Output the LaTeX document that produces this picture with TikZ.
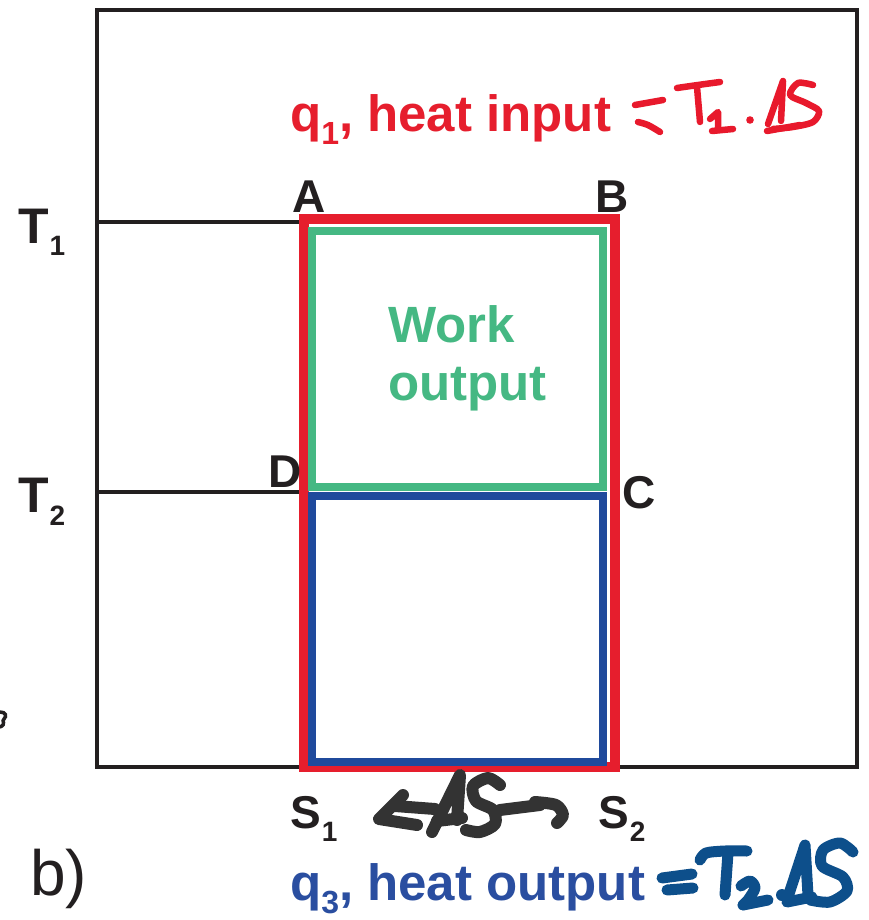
\documentclass[tikz,border=0pt]{standalone}
\usepackage{fontspec}
\setmainfont{Liberation Sans}
\definecolor{ink}{HTML}{231F20}
\definecolor{qred}{HTML}{E61E2D}
\definecolor{wgreen}{HTML}{45B883}
\definecolor{qblue}{HTML}{1F4A9C}
\definecolor{tblue}{HTML}{2A4EA0}
\definecolor{hred}{HTML}{E8192C}
\definecolor{hblue}{HTML}{0D4F8B}
\definecolor{hgray}{HTML}{333333}
\begin{document}
\begin{tikzpicture}[x=1pt,y=-1pt,
  lbl/.style={font=\fontsize{46}{50}\selectfont\bfseries, text=ink, inner sep=0pt, anchor=base west},
  big/.style={font=\fontsize{51}{58}\selectfont\bfseries, inner sep=0pt, anchor=base west},
  hand/.style={line cap=round, line join=round}]
\useasboundingbox (0,0) rectangle (869,920);
\fill[white] (0,0) rectangle (869,920);

% frame and level lines
\draw[ink, line width=4.5] (97,10) rectangle (857,767);
\coordinate (t1a) at (97,222); \coordinate (t1b) at (304,222);
\coordinate (t2a) at (97,492); \coordinate (t2b) at (304,492);
\draw[ink, line width=4] (t1a) -- (t1b);
\draw[ink, line width=4] (t2a) -- (t2b);

% rectangles
\draw[qred, line width=10] (304,219) rectangle (615,767);
\draw[wgreen, line width=8] (312,231) rectangle (603,487);
\draw[qblue, line width=8] (312,496) rectangle (603,762);

% labels
\node[lbl, font=\fontsize{50}{54}\selectfont\bfseries] (T1) at (18,243) {T\kern1pt\raisebox{-12pt}{\fontsize{28}{28}\selectfont 1}};
\node[lbl, font=\fontsize{50}{54}\selectfont\bfseries] (T2) at (18,512) {T\kern1pt\raisebox{-13pt}{\fontsize{28}{28}\selectfont 2}};
\node[lbl] (A) at (292,212) {A};
\node[lbl] (B) at (595,212) {B};
\node[lbl] (D) at (268,487) {D};
\node[lbl] (C) at (622,508) {C};
\node[lbl] (S1) at (290,828) {S\kern1pt\raisebox{-13pt}{\fontsize{28}{28}\selectfont 1}};
\node[lbl] (S2) at (598,828) {S\kern1pt\raisebox{-13pt}{\fontsize{28}{28}\selectfont 2}};

\node[big, text=qred] (q1) at (290,132) {q\raisebox{-13pt}{\fontsize{32}{32}\selectfont 1}, heat input};
\node[big, text=tblue] (q3) at (290,900) {q\raisebox{-13pt}{\fontsize{32}{32}\selectfont 3}, heat output};
\node[big, text=wgreen] (w1) at (388,342) {Work};
\node[big, text=wgreen] (w2) at (388,400) {output};

\node[inner sep=0pt, anchor=base west, text=ink, font=\fontsize{64}{70}\selectfont] (b) at (30,895) {b)};

% cut-off glyph piece at the left edge
\draw[ink, line width=3.5, line cap=round] (0,712) .. controls (6,712) and (7,716) .. (4,719) .. controls (1,721) and (7,724) .. (0,727);

% red handwriting  = T1 . DeltaS
\begin{scope}[hred, line width=6.5, hand]
  \draw (635,105) -- (663,100);
  \draw plot[smooth] coordinates {(638,122) (648,125) (660,132)};
  \draw plot[smooth] coordinates {(677,88) (698,85) (720,82)};
  \draw (697,87) -- (700,122);
  \draw (710,119) -- (718,112) -- (718,130);
  \draw (712,131) -- (733,129);
  \fill (750,120) circle (3.8);
  \draw (768,124) -- (783,81) -- (781,121);
  \draw (767,131) -- (800,125);
  \draw plot[smooth] coordinates {(813,85) (798,83) (790,95) (806,103) (819,111) (813,122) (793,127) (773,129)};
\end{scope}

% black handwritten arrow with DeltaS
\begin{scope}[hgray, line width=12, hand]
  \draw (403,795) -- (379,819) -- (417,825);
  \draw (395,806) -- (435,809);
  \draw (432,832) -- (460,775) -- (457,820);
  \draw (437,821) -- (462,818);
  \draw plot[smooth] coordinates {(500,785) (488,778) (473,786) (476,801) (493,810) (495,824) (480,832) (466,830)};
  \draw (500,810) -- (540,805);
  \draw plot[smooth] coordinates {(535,802) (556,805) (563,815) (557,823)};
\end{scope}

% blue handwriting  = T2 . DeltaS
\begin{scope}[hblue, line width=11, hand]
  \draw (662,878) -- (692,874);
  \draw (667,890) -- (693,888);
  \draw plot[smooth] coordinates {(700,860) (706,853) (725,851) (747,851)};
  \draw (728,853) -- (725,895);
  \draw plot[smooth] coordinates {(741,886) (750,881) (755,888) (748,900) (743,905)};
  \draw (743,905) -- (768,900);
  \fill (782,895) circle (6);
  \draw (787,900) -- (805,845) -- (808,895);
  \draw (787,902) -- (812,897);
  \draw plot[smooth] coordinates {(853,852) (840,843) (823,850) (822,866) (843,877) (847,891) (830,902) (810,900)};
\end{scope}
\end{tikzpicture}
\end{document}
